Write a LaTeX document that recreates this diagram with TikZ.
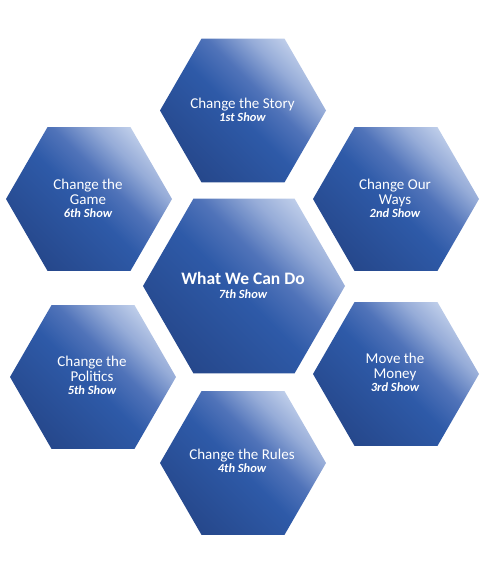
\documentclass[tikz,border=0pt]{standalone}
\usepackage{fontspec}
\setmainfont{Carlito}
\definecolor{hdark}{RGB}{38,72,140}
\definecolor{hmid}{RGB}{46,90,168}
\definecolor{hmidb}{RGB}{80,115,185}
\definecolor{hlt}{RGB}{150,172,216}
\definecolor{hlight}{RGB}{196,210,236}
\pgfdeclarehorizontalshading{hexshade}{100bp}{color(0bp)=(hdark); color(25bp)=(hdark); color(48bp)=(hmid); color(58bp)=(hmidb); color(68bp)=(hlt); color(77bp)=(hlight); color(100bp)=(hlight)}
\newcommand\myhex[3]{\shade[hexfill] (#1,#2) +(0:#3) -- +(60:#3) -- +(120:#3) -- +(180:#3) -- +(240:#3) -- +(300:#3) -- cycle;}
\newcommand\subshow[1]{{\fontsize{12.5}{13}\selectfont\bfseries\itshape #1}}
\begin{document}
\begin{tikzpicture}[x=1pt,y=-1pt,
  hexfill/.style={shading=hexshade, shading angle=45},
  lbl/.style={text=white, align=center, inner sep=0pt, font=\fontsize{15}{15}\selectfont}]
\useasboundingbox (0,0) rectangle (502,568);
\myhex{244}{286}{101}
\myhex{243}{110.5}{83}
\myhex{89}{199}{83}
\myhex{396}{199}{83}
\myhex{93}{377}{83}
\myhex{396}{374}{83}
\myhex{243}{463}{83}
\node[lbl, font=\fontsize{17.5}{17}\selectfont\bfseries] (t7) at (243,285) {What We Can Do\\[-3pt]\subshow{7th Show}};
\node[lbl] (t1) at (242.5,110) {Change the Story\\[-2pt]\subshow{1st Show}};
\node[lbl] (t6) at (88,198) {Change the\\Game\\[-2pt]\subshow{6th Show}};
\node[lbl] (t2) at (395,198) {Change Our\\Ways\\[-2pt]\subshow{2nd Show}};
\node[lbl] (t5) at (92,375.5) {Change the\\Politics\\[-2pt]\subshow{5th Show}};
\node[lbl] (t3) at (395,372.5) {Move the\\Money\\[-2pt]\subshow{3rd Show}};
\node[lbl] (t4) at (242,461) {Change the Rules\\[-2pt]\subshow{4th Show}};
\end{tikzpicture}
\end{document}
